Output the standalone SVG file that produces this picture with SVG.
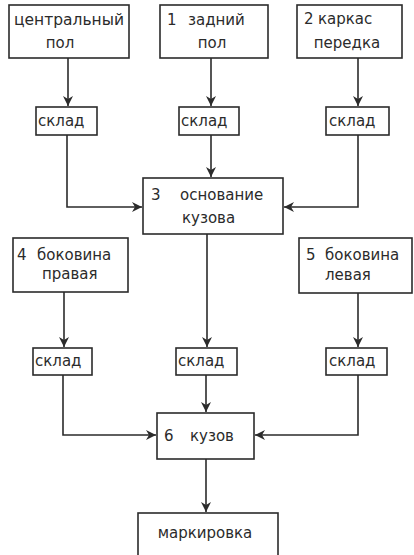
<svg xmlns="http://www.w3.org/2000/svg" width="414" height="555" viewBox="0 0 414 555">
<style>
.box{fill:#fff;stroke:#2b2b2b;stroke-width:1.6}
.t{font-family:"DejaVu Sans","Liberation Sans",sans-serif;font-size:15px;fill:#2b2b2b}
.c{stroke:#2b2b2b;stroke-width:1.6;fill:none}
</style>
<defs>
<marker id="ah" viewBox="0 0 10 10" refX="10" refY="5" markerWidth="11" markerHeight="10" orient="auto" markerUnits="userSpaceOnUse">
<path d="M0,0 L10,5 L0,10 L3,5 z" fill="#2b2b2b"/>
</marker>
</defs>
<rect width="414" height="555" fill="#fff"/>
<g id="connectors">
<path class="c" d="M68,58 V106" marker-end="url(#ah)"/>
<path class="c" d="M211,58 V106" marker-end="url(#ah)"/>
<path class="c" d="M358,58 V106" marker-end="url(#ah)"/>
<path class="c" d="M67,135 V207 H142" marker-end="url(#ah)"/>
<path class="c" d="M211,135 V177" marker-end="url(#ah)"/>
<path class="c" d="M358,135 V207 H284" marker-end="url(#ah)"/>
<path class="c" d="M64,292 V347" marker-end="url(#ah)"/>
<path class="c" d="M207,234 V347" marker-end="url(#ah)"/>
<path class="c" d="M358,293 V347" marker-end="url(#ah)"/>
<path class="c" d="M63,375 V435 H156" marker-end="url(#ah)"/>
<path class="c" d="M206,375 V412" marker-end="url(#ah)"/>
<path class="c" d="M358,375 V435 H255" marker-end="url(#ah)"/>
<path class="c" d="M206,459 V512" marker-end="url(#ah)"/>
</g>
<g id="n-central">
<rect class="box" x="9" y="5" width="120" height="53"/>
<text class="t" x="14" y="25" textLength="110" lengthAdjust="spacingAndGlyphs">центральный</text>
<text class="t" x="60" y="48" text-anchor="middle">пол</text>
</g>
<g id="n-zadniy">
<rect class="box" x="160" y="5" width="108" height="53"/>
<text class="t" x="167" y="25">1</text>
<text class="t" x="188" y="25">задний</text>
<text class="t" x="212" y="48" text-anchor="middle">пол</text>
</g>
<g id="n-karkas">
<rect class="box" x="297" y="5" width="105" height="53"/>
<text class="t" x="304" y="24">2</text>
<text class="t" x="318" y="24">каркас</text>
<text class="t" x="347" y="48" text-anchor="middle">передка</text>
</g>
<g id="n-sklad1">
<rect class="box" x="36" y="107" width="61" height="28"/>
<text class="t" x="38" y="126">склад</text>
</g>
<g id="n-sklad2">
<rect class="box" x="179" y="107" width="60" height="28"/>
<text class="t" x="181" y="126">склад</text>
</g>
<g id="n-sklad3">
<rect class="box" x="326" y="107" width="63" height="28"/>
<text class="t" x="329" y="126">склад</text>
</g>
<g id="n-osnovanie">
<rect class="box" x="143" y="178" width="140" height="56"/>
<text class="t" x="151" y="200">3</text>
<text class="t" x="180" y="200">основание</text>
<text class="t" x="182" y="223">кузова</text>
</g>
<g id="n-bok-prav">
<rect class="box" x="13" y="238" width="115" height="54"/>
<text class="t" x="17" y="260">4</text>
<text class="t" x="37" y="260">боковина</text>
<text class="t" x="42" y="279">правая</text>
</g>
<g id="n-bok-lev">
<rect class="box" x="299" y="238" width="113" height="55"/>
<text class="t" x="306" y="260">5</text>
<text class="t" x="325" y="260">боковина</text>
<text class="t" x="325" y="280">левая</text>
</g>
<g id="n-sklad4">
<rect class="box" x="33" y="348" width="59" height="27"/>
<text class="t" x="35" y="366">склад</text>
</g>
<g id="n-sklad5">
<rect class="box" x="176" y="348" width="61" height="27"/>
<text class="t" x="178" y="366">склад</text>
</g>
<g id="n-sklad6">
<rect class="box" x="326" y="348" width="61" height="27"/>
<text class="t" x="329" y="366">склад</text>
</g>
<g id="n-kuzov">
<rect class="box" x="157" y="413" width="97" height="46"/>
<text class="t" x="164" y="441">6</text>
<text class="t" x="190" y="441">кузов</text>
</g>
<g id="n-markirovka">
<rect class="box" x="138" y="513" width="140" height="52"/>
<text class="t" x="205" y="538" text-anchor="middle">маркировка</text>
</g>
</svg>
